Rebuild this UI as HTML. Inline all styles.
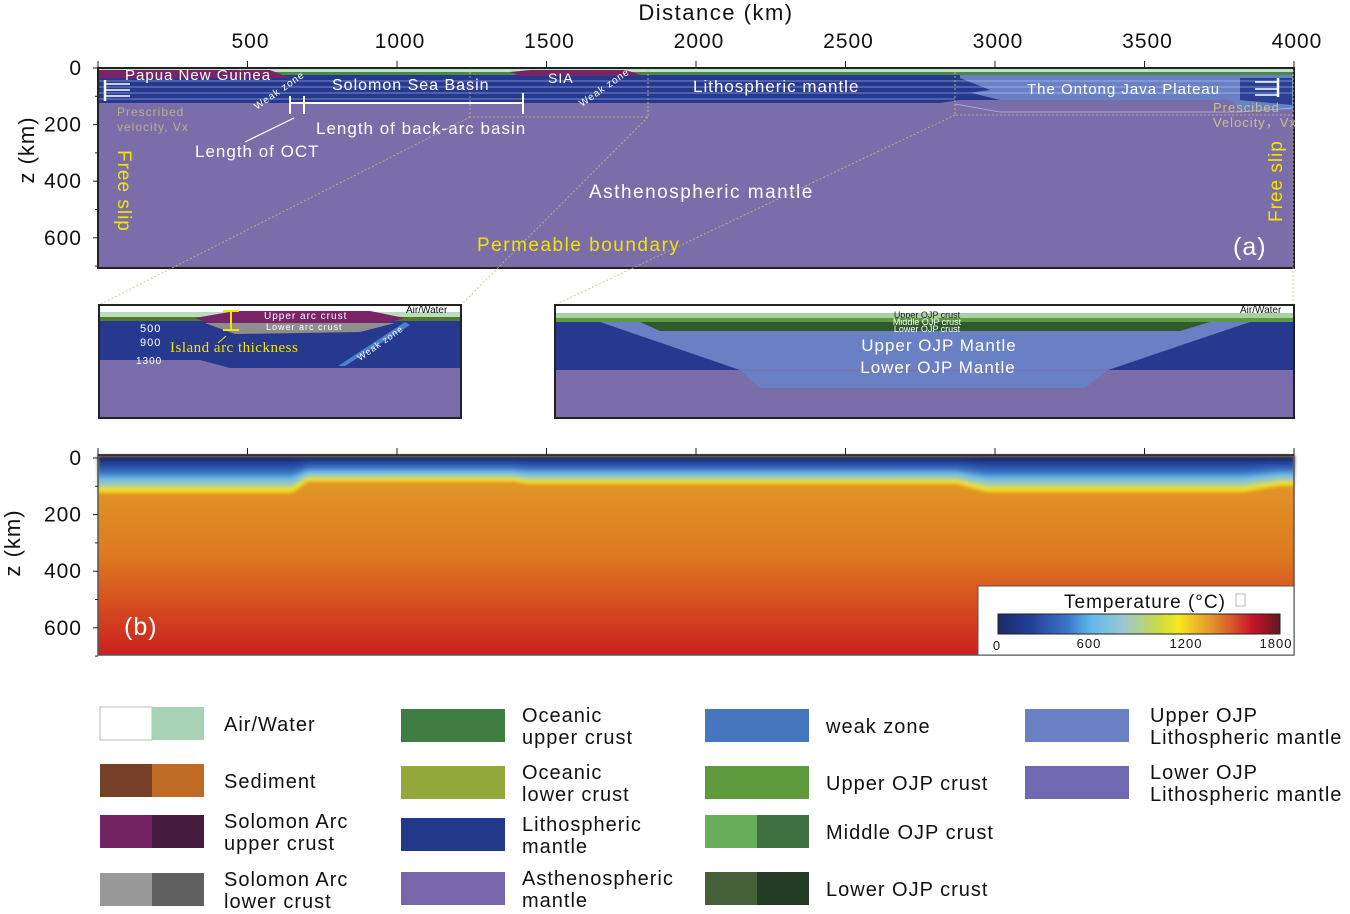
<!DOCTYPE html>
<html><head><meta charset="utf-8">
<style>
body{margin:0;background:#fff;width:1350px;height:914px;overflow:hidden;font-family:"Liberation Sans",Arial,sans-serif}
svg{position:absolute;left:0;top:0}
svg text{letter-spacing:1px}
</style></head>
<body>
<svg id="fig" width="1350" height="914" viewBox="0 0 1350 914" xmlns="http://www.w3.org/2000/svg" font-family="Liberation Sans, Arial, sans-serif">
<defs>
<linearGradient id="cbar" x1="0" x2="1" y1="0" y2="0">
<stop offset="0" stop-color="#1c2a66"/><stop offset="0.12" stop-color="#22409a"/><stop offset="0.25" stop-color="#3c78c8"/>
<stop offset="0.33" stop-color="#62b8ea"/><stop offset="0.45" stop-color="#9ccad0"/><stop offset="0.56" stop-color="#c6d84a"/>
<stop offset="0.64" stop-color="#f6e81c"/><stop offset="0.74" stop-color="#e6a030"/><stop offset="0.82" stop-color="#d8602a"/>
<stop offset="0.9" stop-color="#cc1424"/><stop offset="1" stop-color="#5e1820"/></linearGradient>
<linearGradient id="lithoT" x1="0" x2="0" y1="0" y2="1">
<stop offset="0" stop-color="#141d50"/><stop offset="0.2" stop-color="#223f98"/><stop offset="0.45" stop-color="#3a72c2"/>
<stop offset="0.62" stop-color="#6ebce8"/><stop offset="0.78" stop-color="#a8cca8"/><stop offset="0.9" stop-color="#f2e41c"/><stop offset="1" stop-color="#f0c020"/></linearGradient>
<linearGradient id="asthT" x1="0" x2="0" y1="0" y2="1">
<stop offset="0" stop-color="#e3a02a"/><stop offset="0.5" stop-color="#dd7a20"/><stop offset="1" stop-color="#cc2020"/></linearGradient>
<filter id="blur"><feGaussianBlur stdDeviation="1.5"/></filter>
</defs>

<g>
<rect x="98" y="68" width="1196" height="200" fill="#7a6daa" stroke="#222" stroke-width="2"/>
<rect x="99" y="69" width="1194" height="3" fill="#bfe0c8"/>
<rect x="99" y="72" width="1194" height="3" fill="#4a8a44"/>
<polygon points="99,75 1293,75 1293,100 960,100 940,103 99,103" fill="#26398e"/>
<polygon points="960,75 1293,75 1293,110 1240,110 1230,100 1000,100 960,90" fill="#6a80c4"/>
<polygon points="955,76 990,90 955,95" fill="#26398e"/>
<polygon points="1240,78 1292,78 1292,105 1240,100" fill="#26398e" opacity="0.9"/>
<g stroke="#c8d0ff" stroke-width="0.8" opacity="0.7">
<line x1="99" y1="81" x2="1293" y2="81"/><line x1="99" y1="87" x2="1293" y2="87"/><line x1="99" y1="93" x2="1293" y2="93"/><line x1="99" y1="99" x2="955" y2="99"/>
<path d="M955,104 L1000,112 L1240,112 L1293,108" fill="none"/></g>
<polygon points="99,70 270,70 290,78 99,78" fill="#7a2468"/>
<polygon points="510,72 530,70 625,70 645,76 520,76" fill="#7a2468"/>
<text x="125" y="80" fill="#fff" font-size="15">Papua New Guinea</text>
<text x="332" y="90" fill="#fff" font-size="16">Solomon Sea Basin</text>
<text x="548" y="83" fill="#fff" font-size="14">SIA</text>
<text x="693" y="92" fill="#fff" font-size="17">Lithospheric mantle</text>
<text x="1027" y="94" fill="#fff" font-size="15">The Ontong Java Plateau</text>
<text x="257" y="110" fill="#fff" font-size="10" transform="rotate(-35 257 110)">Weak zone</text>
<text x="582" y="107" fill="#fff" font-size="10" transform="rotate(-35 582 107)">Weak zone</text>
<g stroke="#fff" stroke-width="2.5">
<line x1="105" y1="80" x2="105" y2="101"/><line x1="1278" y1="78" x2="1278" y2="97"/>
<line x1="105" y1="84" x2="130" y2="84" stroke-width="1.5"/><line x1="105" y1="90" x2="130" y2="90" stroke-width="1.5"/><line x1="105" y1="96" x2="130" y2="96" stroke-width="1.5"/>
<line x1="1255" y1="82" x2="1278" y2="82" stroke-width="1.5"/><line x1="1255" y1="89" x2="1278" y2="89" stroke-width="1.5"/><line x1="1255" y1="95" x2="1278" y2="95" stroke-width="1.5"/>
<line x1="290" y1="96" x2="290" y2="114" stroke-width="2"/><line x1="304" y1="96" x2="304" y2="114" stroke-width="2"/><line x1="523" y1="93" x2="523" y2="114" stroke-width="2"/>
<line x1="290" y1="103" x2="523" y2="103" stroke-width="2"/>
<line x1="245" y1="142" x2="294" y2="118" stroke-width="1.2"/></g>
<text x="117" y="116" fill="#b8b08a" font-size="12">Prescribed</text>
<text x="117" y="131" fill="#b8b08a" font-size="12">velocity, Vx</text>
<text x="1213" y="112" fill="#c8c08a" font-size="13">Prescibed</text>
<text x="1213" y="127" fill="#c8c08a" font-size="13">Velocity，Vx</text>
<text x="316" y="134" fill="#fff" font-size="17">Length of back-arc basin</text>
<text x="195" y="157" fill="#fff" font-size="17">Length of OCT</text>
<text x="589" y="198" fill="#fff" font-size="19" style="letter-spacing:1.5px">Asthenospheric mantle</text>
<text x="477" y="251" fill="#f2e400" font-size="19" style="letter-spacing:1.5px">Permeable boundary</text>
<text x="118" y="150" fill="#f2e400" font-size="19" transform="rotate(90 118 150)">Free slip</text>
<text x="1282" y="222" fill="#f2e400" font-size="19" transform="rotate(-90 1282 222)">Free slip</text>
<text x="1233" y="255" fill="#fff" font-size="25">(a)</text>
<g fill="none" stroke="#c8c070" stroke-width="0.8" stroke-dasharray="2,2">
<rect x="470" y="68" width="178" height="49"/><rect x="955" y="68" width="338" height="47"/>
<line x1="470" y1="117" x2="99" y2="305"/><line x1="648" y1="117" x2="461" y2="305"/>
<line x1="955" y1="115" x2="555" y2="305"/><line x1="1293" y1="115" x2="1293" y2="305"/></g>
</g>
<g id="axA"></g>
<text x="716" y="20" text-anchor="middle" font-size="22" fill="#111" style="letter-spacing:1.5px">Distance (km)</text>
<text x="34" y="150" text-anchor="middle" font-size="22" fill="#111" transform="rotate(-90 34 150)">z (km)</text>

<g>
<rect x="99" y="305" width="362" height="113" fill="#7a6daa" stroke="#222" stroke-width="2"/>
<rect x="100" y="306" width="360" height="8" fill="#fff"/>
<rect x="100" y="312" width="360" height="5" fill="#bcdcc0"/>
<rect x="100" y="317" width="360" height="4" fill="#4f7a30"/>
<polygon points="100,321 460,321 460,368 230,368 200,360 100,360" fill="#26398e"/>
<polygon points="195,318 235,311 370,311 405,318 360,330 230,331" fill="#7a2468"/>
<polygon points="205,323 395,323 360,332 235,334" fill="#8e8e8e"/>
<polygon points="338,366 405,322 410,325 345,366" fill="#4f80cc"/>
<text x="264" y="319" fill="#fff" font-size="10">Upper arc crust</text>
<text x="266" y="330" fill="#fff" font-size="9">Lower arc crust</text>
<text x="406" y="313" fill="#111" font-size="10" style="letter-spacing:0">Air/Water</text>
<text x="140" y="332" fill="#fff" font-size="11">500</text>
<text x="140" y="346" fill="#fff" font-size="11">900</text>
<text x="136" y="364" fill="#fff" font-size="10">1300</text>
<text x="170" y="352" fill="#f2e400" font-size="15" font-family="Liberation Serif, serif" style="letter-spacing:0.5px">Island arc thickness</text>
<text x="360" y="361" fill="#fff" font-size="9" transform="rotate(-35 360 361)">Weak zone</text>
<g stroke="#f2e400" stroke-width="2"><line x1="223" y1="311" x2="239" y2="311"/><line x1="231" y1="311" x2="231" y2="330"/><line x1="223" y1="330" x2="239" y2="330"/><line x1="218" y1="343" x2="226" y2="336" stroke-width="1"/></g>
</g>
<g>
<rect x="555" y="305" width="739" height="113" fill="#7a6daa" stroke="#222" stroke-width="2"/>
<rect x="556" y="306" width="737" height="7" fill="#fff"/>
<rect x="556" y="313" width="737" height="5" fill="#a8d0a8"/>
<rect x="556" y="318" width="737" height="4" fill="#5e9a40"/>
<polygon points="556,322 1293,322 1293,370 556,370" fill="#26398e"/>
<polygon points="600,322 1250,322 1108,370 1085,388 760,388 740,370" fill="#6a80c4"/>
<polygon points="640,322 1210,322 1180,331 660,331" fill="#2f5a2c"/>
<rect x="556" y="370" width="737" height="1" fill="#7a6daa"/>
<text x="1240" y="313" fill="#111" font-size="10" style="letter-spacing:0">Air/Water</text>
<text x="927" y="318" fill="#222" font-size="9" text-anchor="middle" style="letter-spacing:0">Upper OJP crust</text>
<text x="927" y="325" fill="#fff" font-size="9" text-anchor="middle" style="letter-spacing:0">Middle OJP crust</text>
<text x="927" y="332" fill="#fff" font-size="9" text-anchor="middle" style="letter-spacing:0">Lower OJP crust</text>
<text x="939" y="351" fill="#fff" font-size="17" text-anchor="middle">Upper OJP Mantle</text>
<text x="938" y="373" fill="#fff" font-size="17" text-anchor="middle">Lower OJP Mantle</text>
</g>

<g id="panelB">
<rect x="98" y="455" width="1196" height="200" fill="url(#asthT)"/>
<g id="tcols" filter="url(#blur)"></g>
<rect x="98" y="455" width="1196" height="200" fill="none" stroke="#555" stroke-width="1.5"/>
<text x="124" y="635" fill="#fff" font-size="25">(b)</text>
</g>
<g id="axB"></g>
<text x="20" y="543" text-anchor="middle" font-size="22" fill="#111" transform="rotate(-90 20 543)">z (km)</text>
<g>
<rect x="978" y="586" width="316" height="69" fill="#fff" stroke="#555"/>
<text x="1064" y="608" font-size="19" fill="#111">Temperature (°C)</text>
<rect x="1236" y="594" width="9" height="12" fill="none" stroke="#bbb"/>
<rect x="998" y="614" width="282" height="20" fill="url(#cbar)" stroke="#222"/>
<text x="997" y="650" font-size="13" text-anchor="middle" fill="#111">0</text>
<text x="1089" y="648" font-size="13" text-anchor="middle" fill="#111">600</text>
<text x="1186" y="648" font-size="13" text-anchor="middle" fill="#111">1200</text>
<text x="1276" y="648" font-size="13" text-anchor="middle" fill="#111">1800</text>
</g>

<g id="legend"></g>
</svg>
<script>
// Temperature model data: lithosphere base depth (km) vs distance (km)
const tDist = [0, 650, 700, 1390, 1430, 2870, 2970, 3830, 3950, 4000];
const tThick = [125, 125, 85, 85, 93, 93, 122, 122, 100, 100];
const xTicks = [500, 1000, 1500, 2000, 2500, 3000, 3500, 4000];
const zTicks = [0, 200, 400, 600];

const NS = 'http://www.w3.org/2000/svg';
const X0 = 98, X1 = 1294;
function xs(d){ return X0 + (X1 - X0) * d / 4000; }
function zA(z){ return 68 + z * 0.283; }
function zB(z){ return 458 + z * 0.283; }
function mk(tag, attrs, parent){ const e = document.createElementNS(NS, tag); for (const k in attrs) e.setAttribute(k, attrs[k]); parent.appendChild(e); return e; }
function thickAt(d){
  for (let i = 0; i < tDist.length - 1; i++) {
    if (d >= tDist[i] && d <= tDist[i+1]) { const f = (d - tDist[i]) / (tDist[i+1] - tDist[i]); return tThick[i] + f * (tThick[i+1] - tThick[i]); }
  }
  return tThick[tThick.length-1];
}
const tc = document.getElementById('tcols');
for (let d = 0; d < 4000; d += 10) {
  const th = thickAt(d + 5);
  const r = mk('rect', {x: xs(d), y: 456, width: xs(d+10) - xs(d) + 0.6, height: zB(th) - 456, fill: 'url(#lithoT)'}, tc);
  
  
}
function axes(gid, zf, topY, labels){
  const g = document.getElementById(gid);
  for (let i = 0; i <= 8; i++) {
    const x = xs(i * 500);
    mk('line', {x1: x, y1: topY - 7, x2: x, y2: topY, stroke: '#222', 'stroke-width': 1}, g);
  }
  mk('line', {x1: X0, y1: topY, x2: X1, y2: topY, stroke: '#222', 'stroke-width': 1.5}, g);
  if (labels) xTicks.forEach(v => {
    const t = mk('text', {x: xs(v) + 3, y: 48, 'text-anchor': 'middle', 'font-size': 21, fill: '#111'}, g);
    t.textContent = v;
    
    
  });
  zTicks.forEach(v => {
    const y = zf(v);
    mk('line', {x1: X0 - 5, y1: y, x2: X0, y2: y, stroke: '#222'}, g);
    const t = mk('text', {x: 82, y: y + 7, 'text-anchor': 'end', 'font-size': 21, fill: '#111'}, g);
    t.textContent = v;
    
    
  });
  for (let v = 100; v <= 700; v += 200) mk('line', {x1: X0 - 3, y1: zf(v), x2: X0, y2: zf(v), stroke: '#222'}, g);
}
axes('axA', zA, 68, true);
axes('axB', zB, 455, false);

const legendItems = [
 [100,707,['#ffffff','#a8d2b6'],['Air/Water']],
 [100,764,['#764028','#bf6b24'],['Sediment']],
 [100,815,['#732262','#461c3e'],['Solomon Arc','upper crust']],
 [100,873,['#999999','#606060'],['Solomon Arc','lower crust']],
 [401,709,['#3f7d43'],['Oceanic','upper crust']],
 [401,766,['#92a83a'],['Oceanic','lower crust']],
 [401,818,['#22398a'],['Lithospheric','mantle']],
 [401,872,['#7766aa'],['Asthenospheric','mantle']],
 [705,709,['#4676be'],['weak zone']],
 [705,766,['#5f9a3e'],['Upper OJP crust']],
 [705,815,['#68ae5a','#3e7042'],['Middle OJP crust']],
 [705,872,['#46603a','#233a24'],['Lower OJP crust']],
 [1025,709,['#6a80c4'],['Upper OJP','Lithospheric mantle']],
 [1025,766,['#7068b0'],['Lower OJP','Lithospheric mantle']]
];
const lg = document.getElementById('legend');
legendItems.forEach(it => {
  const [x, y, cols, lines] = it;
  const g = mk('g', {}, lg);
  
  
  const w = 104 / cols.length;
  cols.forEach((c, i) => mk('rect', {x: x + i * w, y: y, width: w, height: 33, fill: c, stroke: c === '#ffffff' ? '#bbb' : 'none'}, g));
  const tx = x + (x === 100 ? 124 : x === 1025 ? 125 : 121);
  const cy = y + 17;
  lines.forEach((l, i) => {
    const yy = lines.length === 1 ? cy + 7 : cy - 4 + i * 22;
    const t = mk('text', {x: tx, y: yy, 'font-size': 20, fill: '#111'}, g);
    t.textContent = l;
  });
});
</script>
</body></html>
